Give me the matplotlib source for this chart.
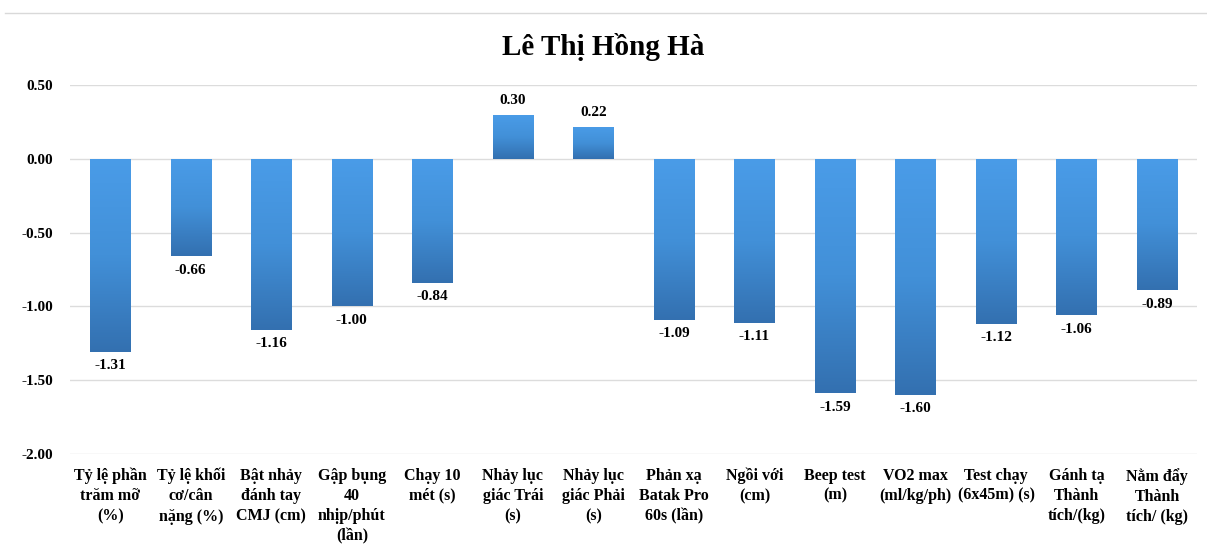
import matplotlib.pyplot as plt
import numpy as np
from matplotlib.colors import LinearSegmentedColormap
from matplotlib.lines import Line2D

plt.rcParams['font.family'] = ['Liberation Serif', 'DejaVu Serif']

title = 'Lê Thị Hồng Hà'
categories = ['Tỷ lệ phần\ntrăm mỡ\n(%)', 'Tỷ lệ khối\ncơ/cân\nnặng (%)',
              'Bật nhảy\nđánh tay\nCMJ (cm)', 'Gập bụng\n40\nnhịp/phút\n(lần)',
              'Chạy 10\nmét (s)', 'Nhảy lục\ngiác Trái\n(s)', 'Nhảy lục\ngiác Phải\n(s)',
              'Phản xạ\nBatak Pro\n60s (lần)', 'Ngồi với\n(cm)', 'Beep test\n(m)',
              'VO2 max\n(ml/kg/ph)', 'Test chạy\n(6x45m) (s)', 'Gánh tạ\nThành\ntích/(kg)',
              'Nằm đẩy\nThành\ntích/ (kg)']
values = [-1.31, -0.66, -1.16, -1.00, -0.84, 0.30, 0.22, -1.09, -1.11, -1.59, -1.60, -1.12, -1.06, -0.89]
yticks = [0.5, 0.0, -0.5, -1.0, -1.5, -2.0]

fig = plt.figure(figsize=(12.07, 5.5), dpi=100)
ax = fig.add_axes([0.058, 0.175, 0.934, 0.67])

x = np.arange(len(values))
bars = ax.bar(x, values, width=0.5, color='#4396e0', zorder=2)

# gradient fill inside each bar
cmap = LinearSegmentedColormap.from_list('g', ['#4a9ce8', '#4290d8', '#3370b0'])
grad = np.linspace(0, 1, 256).reshape(-1, 1)
for b in bars:
    x0, y0 = b.get_x(), b.get_y()
    w, h = b.get_width(), b.get_height()
    top, bot = max(y0, y0 + h), min(y0, y0 + h)
    im = ax.imshow(grad, cmap=cmap, aspect='auto', extent=(x0, x0 + w, bot, top),
                   origin='upper', zorder=3)
    im.set_clip_path(b)

for xi, v in zip(x, values):
    if v < 0:
        ax.text(xi, v - 0.05, f'{v:.2f}', ha='center', va='top', fontsize=11, fontweight='bold')
    else:
        ax.text(xi, v + 0.05, f'{v:.2f}', ha='center', va='bottom', fontsize=11, fontweight='bold')

ax.set_xlim(-0.5, len(values) - 0.5)
ax.set_ylim(-2.0, 0.5)
ax.set_yticks(yticks)
ax.set_yticklabels([f'{t:.2f}' for t in yticks], fontsize=11, fontweight='bold')
ax.set_xticks(x)
ax.set_xticklabels(categories, fontsize=11.5, fontweight='bold', linespacing=1.35, va='top')
ax.tick_params(length=0, pad=10)
ax.tick_params(axis='y', pad=12)
ax.grid(axis='y', color='#dcdcdc', lw=1, zorder=0)
for s in ax.spines.values():
    s.set_visible(False)

fig.text(0.5, 0.915, title, ha='center', va='center', fontsize=21, fontweight='bold')
fig.add_artist(Line2D([0.004, 1.0], [0.977, 0.977], color='#d9d9d9', lw=1, transform=fig.transFigure))

plt.savefig('out.png', dpi=100)
